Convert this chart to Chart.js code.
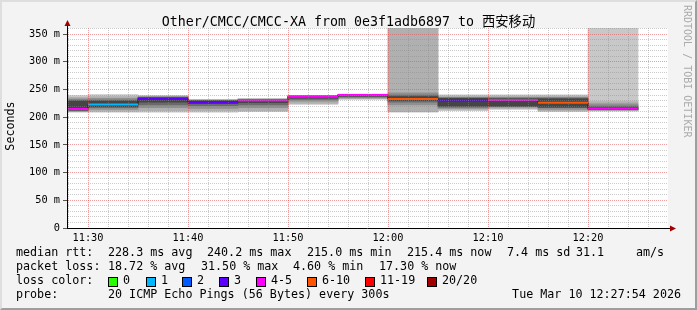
<!DOCTYPE html>
<html>
<head>
<meta charset="utf-8">
<script src="https://cdn.jsdelivr.net/npm/chart.js@4.4.1/dist/chart.umd.min.js"></script>
<style>
  html, body { margin: 0; padding: 0; }
  body { width: 697px; height: 310px; overflow: hidden; }
  #wrap { position: relative; width: 697px; height: 310px; background: #f3f3f3; }
  #c { position: absolute; left: 0; top: 0; }
  #frame { position: absolute; left: 0; top: 0; width: 697px; height: 310px; box-sizing: border-box;
           border-style: solid; border-width: 2px; border-color: #dedede #9e9e9e #9e9e9e #dedede; pointer-events: none; }
  .t { position: absolute; font-family: 'DejaVu Sans Mono', 'Noto Sans CJK SC', monospace; font-size: 11.7px;
       line-height: 1; white-space: pre; color: #000; }
  #title { left: 0; width: 697px; top: 15px; text-align: center; font-size: 13.3px; }
  #ylab { left: -40px; top: 119px; width: 100px; height: 14px; line-height: 14px; text-align: center; transform: rotate(-90deg); }
  #brand { left: 682px; top: 5px; font-size: 10px; color: #aaaaaa; writing-mode: vertical-rl; }
  .box { position: absolute; width: 8px; height: 8px; border: 1px solid #000; }
</style>
</head>
<body>
<div id="wrap">
  <canvas id="c" width="697" height="310"></canvas>
  <div id="frame"></div>
  <div class="t" id="title">Other/CMCC/CMCC-XA from 0e3f1adb6897 to 西安移动</div>
  <div class="t" id="ylab">Seconds</div>
  <div class="t" id="brand">RRDTOOL / TOBI OETIKER</div>

  <div class="t" style="left:16px;top:247px">median rtt:</div>
  <div class="t" style="left:108px;top:247px">228.3 ms avg</div>
  <div class="t" style="left:207px;top:247px">240.2 ms max</div>
  <div class="t" style="left:307px;top:247px">215.0 ms min</div>
  <div class="t" style="left:407px;top:247px">215.4 ms now</div>
  <div class="t" style="left:507px;top:247px">7.4 ms sd</div>
  <div class="t" style="left:576px;top:247px">31.1</div>
  <div class="t" style="left:636px;top:247px">am/s</div>

  <div class="t" style="left:16px;top:261px">packet loss:</div>
  <div class="t" style="left:108px;top:261px">18.72 % avg</div>
  <div class="t" style="left:201px;top:261px">31.50 % max</div>
  <div class="t" style="left:293px;top:261px">4.60 % min</div>
  <div class="t" style="left:379px;top:261px">17.30 % now</div>

  <div class="t" style="left:16px;top:275px">loss color:</div>
  <div id="lossKeys"></div>

  <div class="t" style="left:16px;top:289px">probe:</div>
  <div class="t" style="left:108px;top:289px">20 ICMP Echo Pings (56 Bytes) every 300s</div>
  <div class="t" style="right:16px;top:289px">Tue Mar 10 12:27:54 2026</div>
</div>
<script>
// 5-minute slots (start time), median rtt in ms, lost pings out of 20
const slotStart = ['11:25', '11:30', '11:35', '11:40', '11:45', '11:50', '11:55', '12:00', '12:05', '12:10', '12:15', '12:20'];
const medianRtt = [215.0, 223.0, 233.5, 227.0, 230.0, 237.0, 240.2, 233.0, 230.0, 231.0, 226.0, 215.4];
const lostPings = [4, 1, 3, 3, 4, 5, 4, 7, 3, 4, 6, 4];

// smoke bands, outermost (1) to innermost (5), low/high in ms
const smokeLo1 = [209, 209, 209, 209, 210, 223, 232, 209, 212, 214, 210, 211];
const smokeHi1 = [239, 241, 239, 232, 233.5, 239, 241.5, 361, 240.5, 240.5, 240.5, 361];
const smokeLo2 = [210, 211, 212, 212, 212, 225, 233.5, 210, 214, 216, 212, 212];
const smokeHi2 = [236, 237, 238, 231.5, 233, 238.8, 241, 361, 238, 238, 238, 228];
const smokeLo3 = [211, 214, 217, 216, 217, 229, 235, 222, 216, 218, 214, 213];
const smokeHi3 = [233, 234, 237, 231, 232, 238.4, 240.8, 244, 236, 236, 236, 224];
const smokeLo4 = [212, 217, 222, 221, 222, 232, 236.5, 227, 218, 219, 217, 213.5];
const smokeHi4 = [231, 231, 236, 230, 231.5, 238.2, 240.6, 240, 235, 234.5, 234.5, 220];
const smokeLo5 = [213, 219, 227, 224.5, 226, 234.5, 238, 230, 220, 220, 218, 214];
const smokeHi5 = [229, 229, 235, 229.5, 231, 238, 240.5, 237, 234, 233, 233, 217];
const smokeColors = ['#c8c8c8', '#b0b0b0', '#909090', '#6a6a6a', '#454545'];

// loss colour legend
const lossLabels = ['0', '1', '2', '3', '4-5', '6-10', '11-19', '20/20'];
const lossUpper = [0, 1, 2, 3, 5, 10, 19, 20];
const lossColors = ['#26ff00', '#00b8ff', '#0059ff', '#5e00ff', '#ff00ff', '#ff5500', '#ff0000', '#a10000'];
const lossKeyX = [108, 146, 182, 219, 256, 307, 365, 427];

// axis
const timeLabels = ['11:30', '11:40', '11:50', '12:00', '12:10', '12:20'];
const yMax = 361;
const xFrom = '11:27:54', xTo = '12:27:54';

function toMin(s) {
  let p = s.split(':').map(Number);
  return p[0] * 60 + p[1] + (p[2] || 0) / 60 - 660;
}

function lossColor(n) {
  for (let i = 0; i < lossUpper.length; i++) {
    if (n <= lossUpper[i]) return lossColors[i];
  }
  return lossColors[lossColors.length - 1];
}

// legend boxes
let keys = document.getElementById('lossKeys');
for (let i = 0; i < lossLabels.length; i++) {
  let b = document.createElement('div');
  b.className = 'box';
  b.style.left = lossKeyX[i] + 'px';
  b.style.top = '277px';
  b.style.background = lossColors[i];
  keys.appendChild(b);
  let l = document.createElement('div');
  l.className = 't';
  l.style.left = (lossKeyX[i] + 15) + 'px';
  l.style.top = '275px';
  l.textContent = lossLabels[i];
  keys.appendChild(l);
}

function smokeSet(lo, hi, color, order) {
  return {
    type: 'bar',
    data: slotStart.map((s, i) => ({ x: toMin(s) + 2.5, y: [lo[i], hi[i]] })),
    backgroundColor: color,
    borderWidth: 0,
    barThickness: 'flex',
    barPercentage: 1,
    categoryPercentage: 1,
    stack: 'smoke',
    order: order
  };
}

let stepPts = slotStart.map((s, i) => ({ x: toMin(s), y: medianRtt[i] }));
stepPts.push({ x: toMin(slotStart[slotStart.length - 1]) + 5, y: medianRtt[medianRtt.length - 1] });

let colorPts = [];
slotStart.forEach((s, i) => {
  colorPts.push({ x: toMin(s), y: medianRtt[i] });
  colorPts.push({ x: toMin(s) + 5, y: medianRtt[i] });
  colorPts.push({ x: toMin(s) + 5, y: null });
});

let xGrid = [];
for (let v = 28; v <= 87; v += 2) xGrid.push(v);
let yGrid = [];
for (let v = 0; v <= 360; v += 10) yGrid.push(v);

const majorGrid = 'rgba(225,80,80,0.55)';
const minorGrid = 'rgba(140,140,140,0.45)';

const plotBg = {
  id: 'plotBg',
  beforeDraw(chart) {
    const { ctx, chartArea: a } = chart;
    ctx.save();
    ctx.fillStyle = '#ffffff';
    ctx.fillRect(a.left, a.top, a.right - a.left + 1, a.bottom - a.top);
    ctx.restore();
  }
};

const arrows = {
  id: 'arrows',
  afterDraw(chart) {
    const { ctx, chartArea: a } = chart;
    ctx.save();
    ctx.strokeStyle = '#000';
    ctx.lineWidth = 1;
    ctx.beginPath();
    ctx.moveTo(a.right, a.bottom + 0.5);
    ctx.lineTo(a.right + 4, a.bottom + 0.5);
    ctx.moveTo(a.left + 0.5, a.top);
    ctx.lineTo(a.left + 0.5, a.top - 2);
    ctx.stroke();
    ctx.fillStyle = '#a00000';
    ctx.beginPath();
    ctx.moveTo(a.right + 9, a.bottom + 0.5);
    ctx.lineTo(a.right + 3, a.bottom - 2.5);
    ctx.lineTo(a.right + 3, a.bottom + 3.5);
    ctx.closePath();
    ctx.fill();
    ctx.beginPath();
    ctx.moveTo(a.left + 0.5, a.top - 8);
    ctx.lineTo(a.left - 2.5, a.top - 2);
    ctx.lineTo(a.left + 3.5, a.top - 2);
    ctx.closePath();
    ctx.fill();
    ctx.restore();
  }
};

const axisFont = { family: 'DejaVu Sans Mono', size: 10.3 };

new Chart(document.getElementById('c'), {
  type: 'bar',
  data: {
    datasets: [
      {
        type: 'line',
        data: colorPts,
        borderWidth: 2,
        pointRadius: 0,
        spanGaps: false,
        borderColor: '#000',
        segment: { borderColor: c => lossColor(lostPings[Math.floor(c.p0DataIndex / 3)]) },
        order: 0
      },
      {
        type: 'line',
        data: stepPts,
        stepped: true,
        borderWidth: 1,
        borderColor: '#202020',
        pointRadius: 0,
        order: 1
      },
      smokeSet(smokeLo5, smokeHi5, smokeColors[4], 2),
      smokeSet(smokeLo4, smokeHi4, smokeColors[3], 3),
      smokeSet(smokeLo3, smokeHi3, smokeColors[2], 4),
      smokeSet(smokeLo2, smokeHi2, smokeColors[1], 5),
      smokeSet(smokeLo1, smokeHi1, smokeColors[0], 6)
    ]
  },
  options: {
    responsive: false,
    animation: false,
    devicePixelRatio: 1,
    layout: { padding: { left: 0, top: 28, right: 30, bottom: 58 } },
    plugins: { legend: { display: false }, tooltip: { enabled: false }, title: { display: false } },
    scales: {
      x: {
        type: 'linear',
        offset: false,
        min: toMin(xFrom),
        max: toMin(xTo),
        afterFit: s => { s.height = 24; },
        afterBuildTicks: s => { s.ticks = xGrid.map(v => ({ value: v })); },
        ticks: {
          autoSkip: false, maxRotation: 0, padding: 4, font: axisFont, color: '#000',
          callback: v => (v % 10 === 0 ? timeLabels[(v - 30) / 10] : '')
        },
        grid: {
          z: 1, offset: false, drawTicks: false, lineWidth: 1,
          color: c => (c.tick && c.tick.value % 10 === 0 ? majorGrid : minorGrid)
        },
        border: { display: true, color: '#000', width: 1, z: 2, dash: [1, 1] }
      },
      y: {
        min: 0,
        max: yMax,
        stacked: false,
        afterFit: s => { s.width = 67; },
        afterBuildTicks: s => { s.ticks = yGrid.map(v => ({ value: v })); },
        ticks: {
          autoSkip: false, padding: 3, font: axisFont, color: '#000',
          callback: v => (v % 50 === 0 ? (v === 0 ? '0' : v + ' m') : '')
        },
        grid: {
          z: 1, drawTicks: true, tickLength: 4, lineWidth: 1,
          color: c => (c.tick && c.tick.value === 0 ? 'rgba(0,0,0,0)' : (c.tick && c.tick.value % 50 === 0 ? majorGrid : minorGrid)),
          tickColor: c => (c.tick && c.tick.value % 50 === 0 ? '#555' : 'rgba(0,0,0,0)')
        },
        border: { display: true, color: '#000', width: 1, z: 2, dash: [1, 1] }
      }
    }
  },
  plugins: [plotBg, arrows]
});
</script>
</body>
</html>
